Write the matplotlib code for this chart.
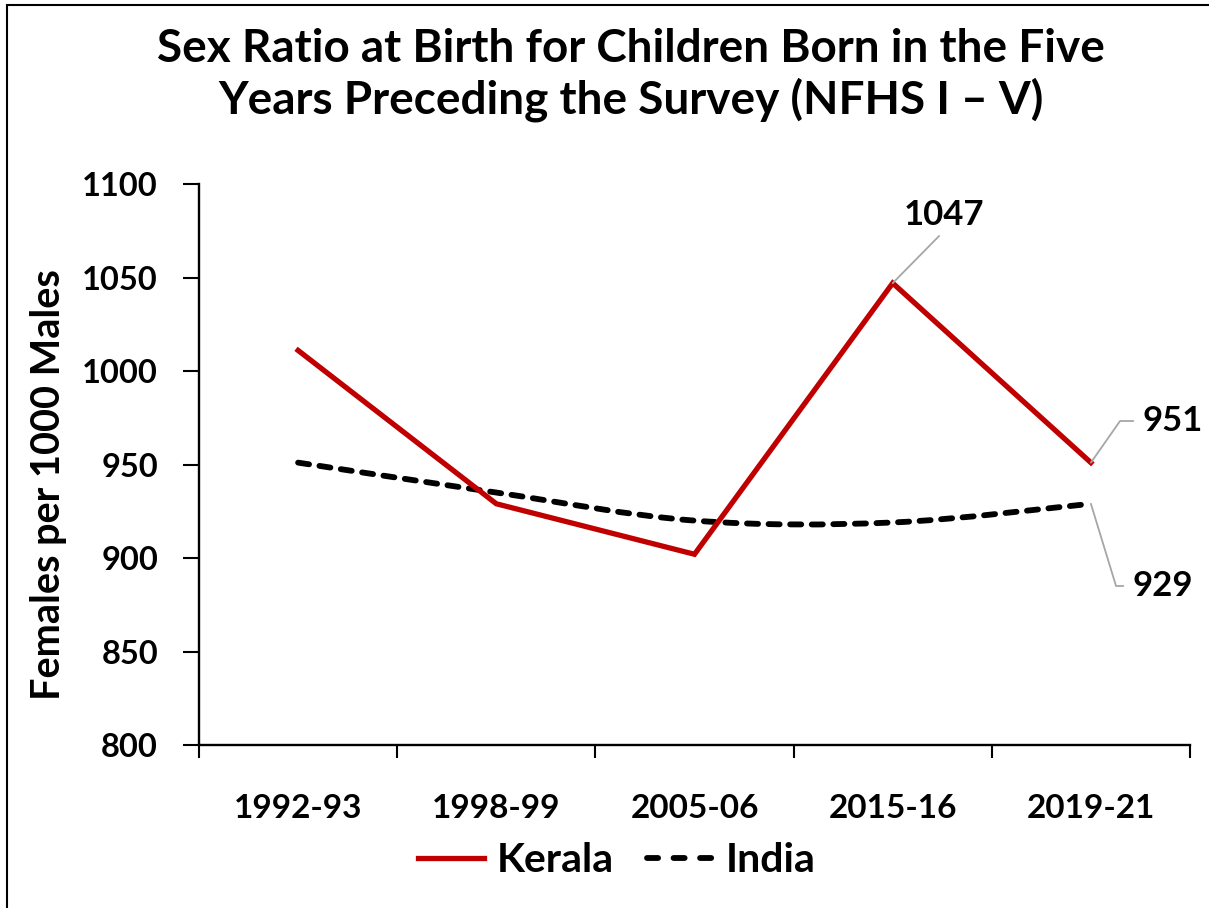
import matplotlib
matplotlib.use("Agg")
import matplotlib.pyplot as plt
from matplotlib.path import Path
from matplotlib.patches import PathPatch, Rectangle
from matplotlib.lines import Line2D
import numpy as np

categories = ["1992-93", "1998-99", "2005-06", "2015-16", "2019-21"]
kerala = [1011, 929, 902, 1047, 951]
india = [951, 935, 920, 919, 929]
yticks = [800, 850, 900, 950, 1000, 1050, 1100]
title = "Sex Ratio at Birth for Children Born in the Five\nYears Preceding the Survey (NFHS I \u2013 V)"
ylabel = "Females per 1000 Males"

plt.rcParams['font.family'] = ['Lato', 'DejaVu Sans']
plt.rcParams['font.weight'] = 'bold'

fig = plt.figure(figsize=(12.09, 9.08), dpi=100)
ax = fig.add_axes([199/1209, 1-745/908, (1190-199)/1209, (745-184)/908])

x = np.arange(len(categories))
RED = "#C00000"
LW = 3.8
LWI = 4.2
ax.plot(x, kerala, color=RED, lw=LW, solid_joinstyle='miter', zorder=3)

# smoothed India line (Excel-style Bezier through the data points)
pts = np.column_stack([x, india]).astype(float)
verts = [tuple(pts[0])]
codes = [Path.MOVETO]
n = len(pts)
for i in range(n - 1):
    p0 = pts[i - 1] if i > 0 else pts[i]
    p1 = pts[i]
    p2 = pts[i + 1]
    p3 = pts[i + 2] if i + 2 < n else pts[i + 1]
    c1 = p1 + (p2 - p0) / 6.0
    c2 = p2 - (p3 - p1) / 6.0
    verts += [tuple(c1), tuple(c2), tuple(p2)]
    codes += [Path.CURVE4] * 3
DASH = (0, (1.9, 1.8))
patch = PathPatch(Path(verts, codes), facecolor='none', edgecolor='black',
                  lw=LWI, linestyle=DASH, capstyle='round', zorder=2)
ax.add_patch(patch)

ax.set_xlim(-0.5, len(categories) - 0.5)
ax.set_ylim(800, 1100)
ax.set_yticks(yticks)
ax.set_yticklabels([str(v) for v in yticks], fontsize=23.5, fontweight='bold')
ax.set_xticks(x)
ax.set_xticklabels(categories, fontsize=24, fontweight='bold')
ax.set_xticks(np.arange(-0.5, len(categories), 1.0), minor=True)
ax.tick_params(axis='x', which='major', length=0, pad=35)
ax.tick_params(axis='x', which='minor', length=9, width=1.5, direction='out')
ax.tick_params(axis='y', length=11.5, width=1.5, direction='out', pad=18)
for s in ['top', 'right']:
    ax.spines[s].set_visible(False)
for s in ['left', 'bottom']:
    ax.spines[s].set_linewidth(1.7)

ax.set_ylabel(ylabel, fontsize=28.5, fontweight='bold')
ax.yaxis.set_label_coords(-0.133, 0.464)

fig.text(0.522, 1 - 75/908, title, ha='center', va='center', fontsize=33,
         fontweight='bold', linespacing=1.2)

# data labels with leader lines
grey = "#A6A6A6"
ax.annotate(str(kerala[3]), xy=(x[3], kerala[3]), xytext=(944, 908-215),
            textcoords='figure pixels', ha='center', va='center', fontsize=25,
            fontweight='bold',
            arrowprops=dict(arrowstyle='-', color=grey, lw=1.3, relpos=(0.5, 0.0),
                            patchA=None, shrinkA=5, shrinkB=0))
ax.annotate(str(kerala[4]), xy=(x[4], kerala[4]), xytext=(1143, 908-421),
            textcoords='figure pixels', ha='left', va='center', fontsize=25,
            fontweight='bold',
            arrowprops=dict(arrowstyle='-', color=grey, lw=1.3, relpos=(0.0, 0.5),
                            patchA=None, shrinkA=7, shrinkB=0,
                            connectionstyle='angle,angleA=0,angleB=55,rad=0'))
ax.annotate(str(india[4]), xy=(x[4], india[4]), xytext=(1133, 908-586),
            textcoords='figure pixels', ha='left', va='center', fontsize=25,
            fontweight='bold',
            arrowprops=dict(arrowstyle='-', color=grey, lw=1.3, relpos=(0.0, 0.5),
                            patchA=None, shrinkA=7, shrinkB=0,
                            connectionstyle='angle,angleA=0,angleB=-73,rad=0'))

handles = [Line2D([], [], color=RED, lw=LW),
           Line2D([], [], color='black', lw=LWI, linestyle=(0, (1.9, 2.65)),
                  dash_capstyle='round')]
leg = fig.legend(handles, ["Kerala", "India"], loc='center', bbox_to_anchor=(0.51, 1 - 861/908),
                 ncol=2, frameon=False, fontsize=29.5, handlelength=1.6, columnspacing=0.8,
                 handletextpad=0.32)
for t in leg.get_texts():
    t.set_fontweight('bold')

# figure border (left & top visible)
fig.patches.append(Rectangle((7/1209, -0.1), 1.2, 1 - 5/908 + 0.1, transform=fig.transFigure,
                             fill=False, edgecolor='black', lw=1.5))

fig.savefig("out.png", dpi=100)
